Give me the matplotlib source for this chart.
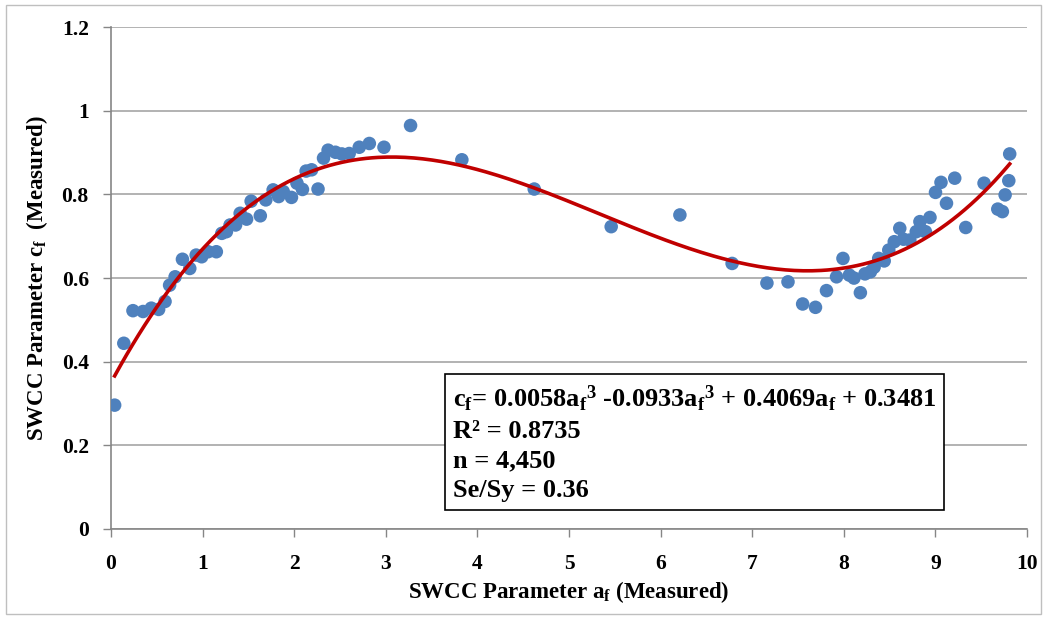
import numpy as np
import matplotlib
matplotlib.use("Agg")
import matplotlib.pyplot as plt
from matplotlib.patches import Rectangle

plt.rcParams['font.family'] = ['Liberation Serif', 'DejaVu Serif']
plt.rcParams['font.weight'] = 'bold'
plt.rcParams['mathtext.default'] = 'regular'

# measured SWCC parameters
a_f = [0.04, 0.14, 0.24, 0.35, 0.44, 0.52, 0.59, 0.64, 0.70, 0.78,
       0.86, 0.93, 0.99, 1.06, 1.15, 1.21, 1.26, 1.30, 1.36, 1.41,
       1.48, 1.53, 1.63, 1.69, 1.77, 1.83, 1.88, 1.97, 2.03, 2.09,
       2.13, 2.19, 2.26, 2.32, 2.37, 2.45, 2.52, 2.60, 2.71, 2.82,
       2.98, 3.27, 3.83, 4.62, 5.46, 6.21, 6.78, 7.16, 7.39, 7.55,
       7.69, 7.81, 7.92, 7.99, 8.06, 8.11, 8.18, 8.23, 8.29, 8.33,
       8.38, 8.44, 8.49, 8.55, 8.61, 8.65, 8.72, 8.79, 8.83, 8.89,
       8.94, 9.00, 9.06, 9.12, 9.21, 9.33, 9.53, 9.68, 9.73, 9.76,
       9.80, 9.81]
c_f = [0.296, 0.444, 0.522, 0.520, 0.528, 0.525, 0.544, 0.583, 0.603, 0.645,
       0.623, 0.655, 0.651, 0.663, 0.663, 0.707, 0.711, 0.727, 0.727, 0.755,
       0.741, 0.784, 0.749, 0.787, 0.811, 0.795, 0.807, 0.793, 0.827, 0.812,
       0.856, 0.859, 0.813, 0.887, 0.906, 0.901, 0.897, 0.898, 0.913, 0.922,
       0.913, 0.965, 0.883, 0.813, 0.723, 0.751, 0.635, 0.588, 0.591, 0.538,
       0.530, 0.570, 0.603, 0.647, 0.607, 0.600, 0.565, 0.610, 0.615, 0.626,
       0.647, 0.641, 0.667, 0.687, 0.719, 0.693, 0.691, 0.711, 0.735, 0.711,
       0.745, 0.805, 0.829, 0.779, 0.839, 0.721, 0.827, 0.765, 0.759, 0.799,
       0.833, 0.897]

x_ticks = [0, 1, 2, 3, 4, 5, 6, 7, 8, 9, 10]
y_ticks = [0, 0.2, 0.4, 0.6, 0.8, 1.0, 1.2]
y_tick_labels = ['0', '0.2', '0.4', '0.6', '0.8', '1', '1.2']

fig = plt.figure(figsize=(10.47, 6.2), dpi=100)
ax = fig.add_axes([0.106, 0.147, 0.875, 0.809])

# outer chart border
fig.patches.append(Rectangle((0.006, 0.01), 0.988, 0.982, transform=fig.transFigure,
                             fill=False, edgecolor='#BFBFBF', linewidth=1.0))

ax.scatter(a_f, c_f, s=95, color='#4F81BD', edgecolors='none', zorder=3)

# 3rd order polynomial trendline
coef = np.polyfit(a_f, c_f, 3)
xs = np.linspace(min(a_f), max(a_f), 300)
ax.plot(xs, np.polyval(coef, xs), color='#C00000', linewidth=2.6, zorder=4)

ax.set_xlim(0, 10)
ax.set_ylim(0, 1.2)
ax.set_xticks(x_ticks)
ax.set_yticks(y_ticks)
ax.set_yticklabels(y_tick_labels)
ax.tick_params(axis='both', labelsize=15.5, color='#868686', length=6, width=1)
ax.tick_params(axis='x', pad=12)
ax.tick_params(axis='y', pad=10)
ax.yaxis.grid(True, color='#A6A6A6', linewidth=1.2)
ax.set_axisbelow(True)
for s in ['top', 'right']:
    ax.spines[s].set_visible(False)
for s in ['left', 'bottom']:
    ax.spines[s].set_color('#868686')
    ax.spines[s].set_linewidth(1.2)

ax.set_xlabel('SWCC Parameter a$_f$ (Measured)', fontsize=16.5, fontweight='bold', labelpad=4)
ax.set_ylabel('SWCC Parameter c$_f$  (Measured)', fontsize=16.5, fontweight='bold', labelpad=8)

eq = ('c$_f$= 0.0058a$_f$$^3$ -0.0933a$_f$$^3$ + 0.4069a$_f$ + 0.3481\n'
      'R² = 0.8735\n'
      'n = 4,450\n'
      'Se/Sy = 0.36')
ax.text(0.373, 0.29, eq, transform=ax.transAxes, fontsize=19, fontweight='bold',
        va='top', ha='left', linespacing=1.36, zorder=5,
        bbox=dict(boxstyle='square,pad=0.3', facecolor='white', edgecolor='black', linewidth=1.2))

fig.savefig('out.png', dpi=100)
